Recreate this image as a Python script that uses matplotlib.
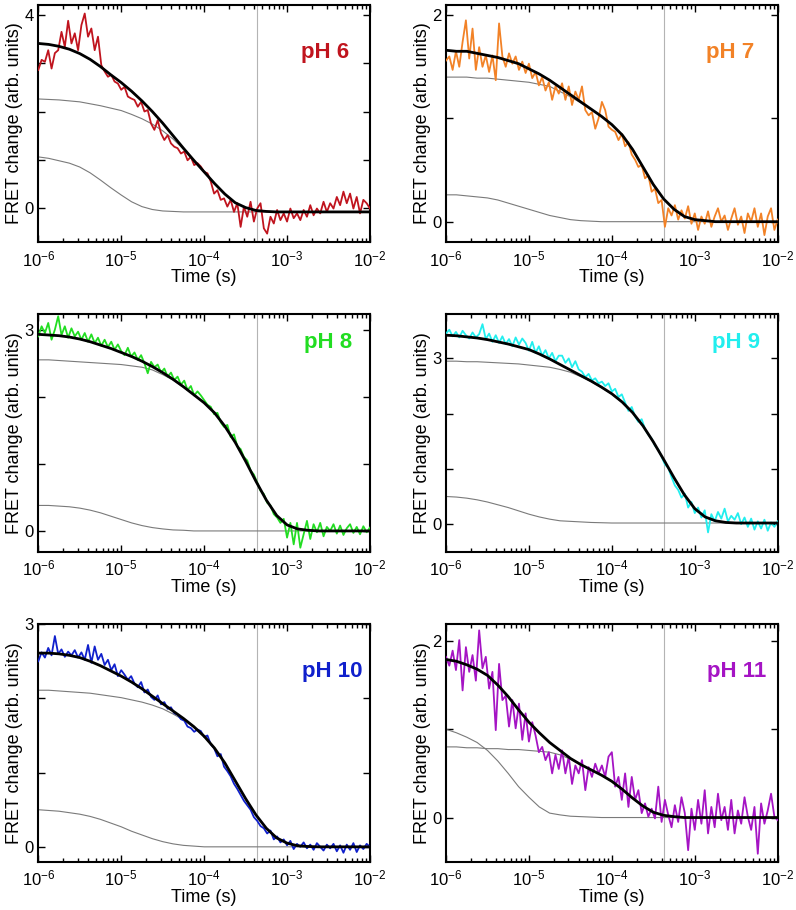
import matplotlib
matplotlib.use("Agg")
import matplotlib.pyplot as plt
import numpy as np
from matplotlib.ticker import LogLocator, NullFormatter

plt.rcParams['font.family'] = ['Liberation Sans', 'DejaVu Sans']
plt.rcParams['mathtext.fontset'] = 'custom'
plt.rcParams['mathtext.rm'] = 'Liberation Sans'
plt.rcParams['mathtext.it'] = 'Liberation Sans:italic'
plt.rcParams['mathtext.bf'] = 'Liberation Sans:bold'

# time grids (s): measured trace, fit curve and its two components
t_data = np.logspace(-6, -2, 101)
t_fit = np.logspace(-6, -2, 33)
T_MARK = 4.3e-4

# ---- pH 6 ----
ph6_data = [2.86, 3.07, 3.03, 3.27, 2.89, 3.21, 3.27, 3.65, 3.34, 3.88, 3.41, 3.62, 3.27, 3.79, 4.03, 3.55, 3.72,
            3.27, 3.55, 2.96, 2.83, 2.72, 2.76, 2.62, 2.58, 2.45, 2.51, 2.31, 2.27, 2.24, 2.10, 2.20, 2.00, 2.03,
            1.75, 1.62, 1.82, 1.55, 1.41, 1.51, 1.34, 1.27, 1.24, 1.13, 1.17, 0.99, 1.06, 0.89, 0.93,
            0.86, 0.75, 0.72, 0.55, 0.30, 0.37, 0.17, 0.20, 0.03, 0.17, -0.08, 0.10, -0.39, 0.03, -0.18, 0.13,
            -0.28, -0.01, 0.10, -0.42, -0.53, -0.18, -0.32, -0.04, -0.25, -0.11, -0.28, -0.01, -0.21, -0.11,
            -0.25, -0.04, -0.18, 0.06, -0.15, -0.01, -0.11, 0.13, -0.08, 0.10, -0.01, 0.23, 0.06, 0.34, 0.10,
            0.30, -0.01, 0.23, -0.11, 0.17, 0.10, -0.01]
ph6_fit = [3.41, 3.39, 3.35, 3.29, 3.20, 3.08, 2.93, 2.76, 2.60, 2.42, 2.22, 2.00, 1.76, 1.50, 1.24, 0.99,
           0.75, 0.51, 0.29, 0.11, 0.01, -0.05, -0.07, -0.08, -0.08, -0.08, -0.08, -0.08, -0.08, -0.08,
           -0.08, -0.08, -0.08]
ph6_slow = [2.26, 2.25, 2.24, 2.22, 2.20, 2.16, 2.12, 2.07, 2.02, 1.94, 1.85, 1.74, 1.60, 1.43, 1.22, 0.99,
            0.75, 0.51, 0.29, 0.11, 0.01, -0.05, -0.07, -0.08, -0.08, -0.08, -0.08, -0.08, -0.08, -0.08,
            -0.08, -0.08, -0.08]
ph6_fast = [1.06, 1.03, 0.98, 0.93, 0.85, 0.73, 0.58, 0.42, 0.27, 0.13, 0.03, -0.03, -0.06, -0.07, -0.08,
            -0.08, -0.08, -0.08, -0.08, -0.08, -0.08, -0.08, -0.08, -0.08, -0.08, -0.08, -0.08, -0.08, -0.08,
            -0.08, -0.08, -0.08, -0.08]

# ---- pH 7 ----
ph7_data = [1.56, 1.60, 1.47, 1.65, 1.50, 1.74, 1.95, 1.58, 1.87, 1.47, 1.69, 1.50, 1.61, 1.45, 1.61, 1.37,
            1.92, 1.60, 1.50, 1.63, 1.53, 1.60, 1.47, 1.55, 1.44, 1.53, 1.39, 1.45, 1.32, 1.40, 1.27, 1.35,
            1.18, 1.31, 1.24, 1.34, 1.18, 1.31, 1.13, 1.26, 1.18, 1.31, 1.08, 1.03, 1.06, 0.90, 1.00,
            1.16, 1.08, 0.92, 0.89, 0.87, 0.79, 0.85, 0.73, 0.77, 0.65, 0.60, 0.53, 0.55, 0.42, 0.45, 0.29,
            0.32, 0.18, 0.21, -0.05, 0.13, 0.06, 0.16, 0.02, 0.11, 0.03, 0.15, -0.02, 0.08, -0.08, 0.05, -0.02,
            0.10, -0.05, 0.05, 0.13, 0.00, 0.06, -0.08, 0.03, 0.13, -0.03, 0.05, -0.11, 0.08, 0.00, 0.13,
            -0.05, 0.08, -0.13, 0.05, 0.13, -0.08, 0.02]
ph7_fit = [1.66, 1.65, 1.65, 1.63, 1.61, 1.59, 1.56, 1.53, 1.48, 1.43, 1.37, 1.30, 1.23, 1.16, 1.09, 1.02,
           0.94, 0.84, 0.70, 0.53, 0.36, 0.22, 0.12, 0.05, 0.02, 0.01, 0, 0, 0, 0, 0, 0, 0]
ph7_slow = [1.40, 1.40, 1.40, 1.39, 1.39, 1.38, 1.37, 1.36, 1.35, 1.33, 1.31, 1.26, 1.21, 1.15, 1.085, 1.02,
            0.94, 0.84, 0.70, 0.53, 0.36, 0.22, 0.12, 0.05, 0.02, 0.01, 0, 0, 0, 0, 0, 0, 0]
ph7_fast = [0.26, 0.26, 0.25, 0.24, 0.23, 0.21, 0.18, 0.15, 0.12, 0.09, 0.06, 0.04, 0.02, 0.01, 0.005,
            0, 0, 0, 0, 0, 0, 0, 0, 0, 0, 0, 0, 0, 0, 0, 0, 0, 0]

# ---- pH 8 ----
ph8_data = [2.90, 3.05, 2.95, 3.10, 2.85, 3.00, 3.20, 2.92, 3.05, 2.88, 3.02, 2.90, 2.97, 2.85, 2.95, 2.82,
            2.93, 2.80, 2.88, 2.76, 2.85, 2.74, 2.82, 2.70, 2.78, 2.68, 2.62, 2.73, 2.60, 2.66, 2.55, 2.62,
            2.50, 2.35, 2.52, 2.44, 2.48, 2.36, 2.42, 2.30, 2.36, 2.25, 2.30, 2.18, 2.24, 2.10, 2.16, 2.02, 2.08,
            2.02, 1.95, 1.88, 1.85, 1.74, 1.76, 1.62, 1.55, 1.58, 1.40, 1.44, 1.26, 1.22, 1.10, 1.05, 0.90,
            0.84, 0.72, 0.60, 0.55, 0.42, 0.38, 0.25, 0.20, 0.12, 0.18, -0.10, 0.12, -0.20, 0.12, -0.25, -0.05,
            0.15, -0.12, 0.10, -0.02, 0.12, -0.08, 0.06, 0.00, 0.10, -0.04, 0.08, -0.06, 0.04, 0.10, -0.03,
            0.06, -0.05, 0.07, -0.02, 0.05]
ph8_fit = [2.93, 2.92, 2.91, 2.89, 2.86, 2.82, 2.77, 2.72, 2.66, 2.60, 2.53, 2.45, 2.36, 2.26, 2.15, 2.03,
           1.91, 1.76, 1.56, 1.32, 1.04, 0.74, 0.46, 0.23, 0.09, 0.03, 0.01, 0, 0, 0, 0, 0, 0]
ph8_slow = [2.55, 2.55, 2.54, 2.53, 2.52, 2.51, 2.50, 2.49, 2.48, 2.46, 2.44, 2.40, 2.33, 2.25, 2.14, 2.03,
            1.91, 1.76, 1.56, 1.32, 1.04, 0.74, 0.46, 0.23, 0.09, 0.03, 0.01, 0, 0, 0, 0, 0, 0]
ph8_fast = [0.38, 0.38, 0.37, 0.36, 0.34, 0.31, 0.27, 0.22, 0.17, 0.12, 0.08, 0.05, 0.03, 0.015, 0.01,
            0, 0, 0, 0, 0, 0, 0, 0, 0, 0, 0, 0, 0, 0, 0, 0, 0, 0]

# ---- pH 9 ----
ph9_data = [3.45, 3.52, 3.40, 3.48, 3.38, 3.50, 3.42, 3.36, 3.47, 3.38, 3.44, 3.62, 3.35, 3.45, 3.30, 3.42,
            3.28, 3.40, 3.26, 3.35, 3.22, 3.38, 3.25, 3.36, 3.28, 3.14, 3.30, 3.10, 3.22, 3.05, 3.15, 3.00,
            3.10, 2.95, 3.05, 3.05, 2.92, 3.00, 2.84, 2.95, 2.80, 2.76, 2.66, 2.72, 2.60, 2.64, 2.55,
            2.58, 2.50, 2.55, 2.40, 2.45, 2.30, 2.35, 2.20, 2.05, 2.12, 1.95, 1.85, 1.90, 1.72, 1.62, 1.55,
            1.42, 1.35, 1.22, 1.08, 1.02, 0.85, 0.70, 0.62, 0.48, 0.55, 0.30, 0.40, 0.20, 0.30, 0.12, 0.25,
            -0.15, 0.18, 0.05, 0.22, 0.10, 0.28, 0.05, 0.15, 0.08, 0.20, 0.00, 0.12, -0.05, 0.10, -0.10, 0.05,
            -0.08, 0.08, -0.12, 0.03, -0.05, 0.05]
ph9_fit = [3.42, 3.41, 3.39, 3.37, 3.34, 3.30, 3.26, 3.21, 3.16, 3.08, 2.99, 2.89, 2.79, 2.69, 2.59, 2.48,
           2.36, 2.21, 2.02, 1.78, 1.49, 1.17, 0.84, 0.53, 0.28, 0.13, 0.06, 0.03, 0.02, 0.02, 0.02, 0.02, 0.02]
ph9_slow = [2.95, 2.95, 2.94, 2.94, 2.93, 2.92, 2.91, 2.90, 2.88, 2.86, 2.84, 2.80, 2.75, 2.67, 2.58, 2.47,
            2.35, 2.20, 2.01, 1.77, 1.48, 1.16, 0.83, 0.52, 0.27, 0.12, 0.05, 0.03, 0.02, 0.02, 0.02, 0.02, 0.02]
ph9_fast = [0.50, 0.49, 0.47, 0.44, 0.40, 0.35, 0.30, 0.24, 0.18, 0.13, 0.09, 0.06, 0.05, 0.04, 0.03, 0.025,
            0.02, 0.02, 0.02, 0.02, 0.02, 0.02, 0.02, 0.02, 0.02, 0.02, 0.02, 0.02, 0.02, 0.02, 0.02, 0.02, 0.02]

# ---- pH 10 ----
ph10_data = [2.50, 2.62, 2.55, 2.68, 2.58, 2.84, 2.60, 2.66, 2.56, 2.63, 2.58, 2.65, 2.55, 2.62, 2.52, 2.72,
             2.48, 2.70, 2.52, 2.60, 2.45, 2.52, 2.38, 2.46, 2.30, 2.38, 2.32, 2.25, 2.30, 2.20, 2.15, 2.22,
             2.08, 2.12, 2.02, 1.98, 2.04, 1.92, 1.95, 1.86, 1.88, 1.80, 1.78, 1.72, 1.70, 1.62, 1.60, 1.55, 1.58,
             1.56, 1.48, 1.50, 1.38, 1.33, 1.22, 1.25, 1.08, 1.02, 0.95, 0.85, 0.78, 0.70, 0.62, 0.56, 0.50,
             0.40, 0.35, 0.28, 0.25, 0.18, 0.22, 0.10, 0.14, 0.06, 0.10, 0.02, 0.08, -0.03, 0.04, 0.00, 0.06,
             -0.02, 0.03, -0.04, 0.05, 0.00, -0.05, 0.03, -0.02, 0.04, -0.06, 0.02, -0.08, 0.03, -0.04, 0.05,
             -0.07, 0.02, -0.03, 0.04, 0.00]
ph10_fit = [2.61, 2.61, 2.60, 2.58, 2.55, 2.50, 2.44, 2.37, 2.30, 2.22, 2.13, 2.03, 1.93, 1.83, 1.73, 1.62,
            1.49, 1.33, 1.13, 0.89, 0.65, 0.43, 0.25, 0.12, 0.05, 0.015, 0.005, 0, 0, 0, 0, 0, 0]
ph10_slow = [2.11, 2.11, 2.10, 2.09, 2.08, 2.07, 2.05, 2.03, 2.01, 1.98, 1.95, 1.91, 1.86, 1.79, 1.71, 1.61,
             1.49, 1.33, 1.13, 0.89, 0.65, 0.43, 0.25, 0.12, 0.05, 0.015, 0.005, 0, 0, 0, 0, 0, 0]
ph10_fast = [0.50, 0.49, 0.48, 0.46, 0.44, 0.41, 0.37, 0.32, 0.27, 0.21, 0.16, 0.11, 0.07, 0.04, 0.02, 0.01,
             0, 0, 0, 0, 0, 0, 0, 0, 0, 0, 0, 0, 0, 0, 0, 0, 0]

# ---- pH 11 ----
ph11_data = [1.82, 1.72, 1.89, 1.67, 2.01, 1.44, 1.93, 1.65, 1.84, 1.55, 2.12, 1.69, 1.82, 1.46, 1.65, 0.99,
             1.74, 1.33, 1.38, 1.03, 1.33, 1.01, 1.29, 0.88, 1.18, 0.86, 1.08, 0.93, 0.74, 0.80, 0.65, 0.74,
             0.50, 0.71, 0.55, 0.76, 0.50, 0.69, 0.38, 0.59, 0.50, 0.65, 0.31, 0.57, 0.46, 0.61, 0.50,
             0.59, 0.46, 0.69, 0.74, 0.35, 0.46, 0.20, 0.50, 0.12, 0.46, 0.20, 0.31, 0.05, 0.16, 0.01, 0.10,
             -0.01, 0.35, -0.05, 0.20, 0.03, -0.11, 0.14, -0.05, 0.23, 0.05, -0.37, 0.10, -0.14, 0.20, -0.07,
             0.31, -0.18, 0.12, -0.11, 0.27, -0.03, 0.12, -0.14, 0.20, -0.18, 0.08, -0.07, 0.23, 0.01, -0.14,
             0.12, -0.41, 0.16, -0.07, 0.08, 0.27, 0.01, -0.03]
ph11_fit = [1.79, 1.77, 1.73, 1.68, 1.61, 1.50, 1.37, 1.22, 1.08, 0.96, 0.85, 0.76, 0.67, 0.60, 0.54, 0.48,
            0.41, 0.32, 0.22, 0.13, 0.06, 0.025, 0.01, 0, 0, 0, 0, 0, 0, 0, 0, 0, 0]
ph11_slow = [0.80, 0.80, 0.79, 0.79, 0.78, 0.78, 0.77, 0.77, 0.76, 0.75, 0.74, 0.71, 0.66, 0.60, 0.54, 0.48,
             0.41, 0.32, 0.22, 0.13, 0.06, 0.025, 0.01, 0, 0, 0, 0, 0, 0, 0, 0, 0, 0]
ph11_fast = [1.00, 0.96, 0.91, 0.85, 0.76, 0.64, 0.50, 0.35, 0.23, 0.12, 0.05, 0.03, 0.015, 0.01, 0.005,
             0, 0, 0, 0, 0, 0, 0, 0, 0, 0, 0, 0, 0, 0, 0, 0, 0, 0]

labels = ["pH 6", "pH 7", "pH 8", "pH 9", "pH 10", "pH 11"]
colors = ["#c0141e", "#f28227", "#22dd22", "#22eeee", "#1020cc", "#a514c4"]
data = [ph6_data, ph7_data, ph8_data, ph9_data, ph10_data, ph11_data]
fits = [ph6_fit, ph7_fit, ph8_fit, ph9_fit, ph10_fit, ph11_fit]
slows = [ph6_slow, ph7_slow, ph8_slow, ph9_slow, ph10_slow, ph11_slow]
fasts = [ph6_fast, ph7_fast, ph8_fast, ph9_fast, ph10_fast, ph11_fast]
ylims = [(-0.71, 4.21), (-0.2, 2.1), (-0.31, 3.23), (-0.5, 3.8), (-0.2, 3.0), (-0.5, 2.19)]
ytop = [4, 2, 3, 3, 3, 2]
label_pos = [(0.937, 0.80), (0.93, 0.80), (0.946, 0.88), (0.946, 0.88), (0.976, 0.80), (0.967, 0.80)]

fig = plt.figure(figsize=(7.96, 9.10), dpi=100)
lefts = [0.0481, 0.5603]
bottoms = [0.7337, 0.3937, 0.0531]
W, H = 0.4167, 0.2610

for i in range(6):
    ax = fig.add_axes([lefts[i % 2], bottoms[i // 2], W, H])
    ax.axvline(T_MARK, color="#b4b4b4", lw=0.8, zorder=1)
    ax.plot(t_fit, slows[i], color="#7a7a7a", lw=0.8, zorder=2)
    ax.plot(t_fit, fasts[i], color="#7a7a7a", lw=0.8, zorder=2)
    ax.plot(t_data, data[i], color=colors[i], lw=1.3, zorder=3)
    ax.plot(t_fit, fits[i], color="black", lw=2.0, zorder=4)

    ax.set_xscale("log")
    ax.set_xlim(1e-6, 1e-2)
    ax.set_ylim(*ylims[i])
    ax.xaxis.set_major_locator(LogLocator(base=10, numticks=10))
    ax.xaxis.set_minor_locator(LogLocator(base=10, subs=np.arange(2, 10), numticks=20))
    ax.xaxis.set_minor_formatter(NullFormatter())
    yt = list(range(0, ytop[i] + 1))
    ax.set_yticks(yt)
    ax.set_yticklabels([str(v) if v in (0, ytop[i]) else "" for v in yt])

    ax.tick_params(which="both", direction="in", top=True, right=True, width=1.0, labelsize=12)
    ax.tick_params(which="major", length=5)
    ax.tick_params(which="minor", length=3)
    ax.tick_params(axis="x", pad=5)
    for s in ax.spines.values():
        s.set_linewidth(1.5)

    ax.set_xlabel("Time (s)", fontsize=13, labelpad=0)
    ax.set_ylabel("FRET change (arb. units)", fontsize=13)
    ax.yaxis.set_label_coords(-0.045, 0.5)

    ax.text(label_pos[i][0], label_pos[i][1], labels[i], transform=ax.transAxes, ha="right", va="center",
            color=colors[i], fontsize=16, fontweight="bold")

fig.savefig("out.png", dpi=100)
